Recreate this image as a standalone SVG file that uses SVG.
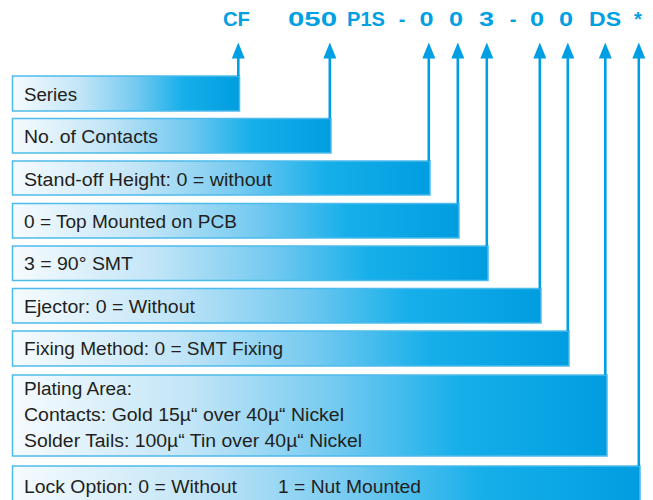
<svg xmlns="http://www.w3.org/2000/svg" width="653" height="500" viewBox="0 0 653 500">
<defs>
<linearGradient id="g" x1="0" y1="0" x2="1" y2="0">
<stop offset="0" stop-color="#f6fbfe"/>
<stop offset="0.3" stop-color="#c2e5f7"/>
<stop offset="0.55" stop-color="#72c9f0"/>
<stop offset="0.75" stop-color="#16afea"/>
<stop offset="1" stop-color="#009de0"/>
</linearGradient>
<marker id="arr" viewBox="0 0 16 13" refX="0.5" refY="6.5" markerWidth="16" markerHeight="13" markerUnits="userSpaceOnUse" orient="auto">
<path d="M0,0 L16,6.5 L0,13 Z" fill="#009fe3"/>
</marker>
</defs>
<style>
.box{fill:url(#g);stroke:#4dbbeb;stroke-width:1.5}
.t{font-family:"Liberation Sans",Arial,sans-serif;font-size:18px;fill:#231f20}
.h{font-family:"Liberation Sans",Arial,sans-serif;font-size:20px;font-weight:bold;fill:#00a0e3;text-anchor:middle}
.c{stroke:#009fe3;stroke-width:2.6;fill:none}
</style>
<g id="header">
<text class="h" x="236.5" y="26" textLength="27" lengthAdjust="spacingAndGlyphs">CF</text>
<text class="h" x="312.5" y="26" textLength="49" lengthAdjust="spacingAndGlyphs">050</text>
<text class="h" x="366" y="26" textLength="38" lengthAdjust="spacingAndGlyphs">P1S</text>
<text class="h" x="402" y="26">-</text>
<text class="h" x="426.5" y="26" textLength="14" lengthAdjust="spacingAndGlyphs">0</text>
<text class="h" x="456" y="26" textLength="14" lengthAdjust="spacingAndGlyphs">0</text>
<text class="h" x="486.5" y="26" textLength="15" lengthAdjust="spacingAndGlyphs">3</text>
<text class="h" x="513" y="26">-</text>
<text class="h" x="537" y="26" textLength="14" lengthAdjust="spacingAndGlyphs">0</text>
<text class="h" x="566" y="26" textLength="14" lengthAdjust="spacingAndGlyphs">0</text>
<text class="h" x="605" y="26" textLength="32" lengthAdjust="spacingAndGlyphs">DS</text>
<text class="h" x="638" y="26">*</text>
</g>
<g id="series"><rect class="box" x="12.5" y="76" width="227" height="35"/><text class="t" x="24" y="101" textLength="53" lengthAdjust="spacingAndGlyphs">Series</text></g>
<g id="contacts"><rect class="box" x="12.5" y="118.5" width="318.5" height="34.5"/><text class="t" x="24" y="143" textLength="134" lengthAdjust="spacingAndGlyphs">No. of Contacts</text></g>
<g id="standoff"><rect class="box" x="12.5" y="161" width="417.5" height="34"/><text class="t" x="24" y="185.5" textLength="248" lengthAdjust="spacingAndGlyphs">Stand-off Height: 0 = without</text></g>
<g id="mounting"><rect class="box" x="12.5" y="203.5" width="446.5" height="34.5"/><text class="t" x="24" y="228" textLength="213" lengthAdjust="spacingAndGlyphs">0 = Top Mounted on PCB</text></g>
<g id="smt"><rect class="box" x="12.5" y="246" width="475.5" height="34.5"/><text class="t" x="24" y="270" textLength="109" lengthAdjust="spacingAndGlyphs">3 = 90° SMT</text></g>
<g id="ejector"><rect class="box" x="12.5" y="288.5" width="528.5" height="34.5"/><text class="t" x="24" y="312.5" textLength="171" lengthAdjust="spacingAndGlyphs">Ejector: 0 = Without</text></g>
<g id="fixing"><rect class="box" x="12.5" y="331" width="556.5" height="35"/><text class="t" x="24" y="355" textLength="259" lengthAdjust="spacingAndGlyphs">Fixing Method: 0 = SMT Fixing</text></g>
<g id="plating"><rect class="box" x="12.5" y="375" width="594.5" height="81"/>
<text class="t" x="24" y="395" textLength="108" lengthAdjust="spacingAndGlyphs">Plating Area:</text>
<text class="t" x="24" y="421" textLength="320" lengthAdjust="spacingAndGlyphs">Contacts: Gold 15µ“ over 40µ“ Nickel</text>
<text class="t" x="24" y="447" textLength="338" lengthAdjust="spacingAndGlyphs">Solder Tails: 100µ“ Tin over 40µ“ Nickel</text></g>
<g id="lock"><rect class="box" x="12.5" y="466" width="627.5" height="44"/>
<text class="t" x="24" y="493" textLength="213" lengthAdjust="spacingAndGlyphs">Lock Option: 0 = Without</text>
<text class="t" x="278" y="493" textLength="143" lengthAdjust="spacingAndGlyphs">1 = Nut Mounted</text></g>
<g id="connectors">
<line class="c" x1="238.3" y1="76" x2="238.3" y2="58" marker-end="url(#arr)"/>
<line class="c" x1="329.8" y1="118.5" x2="329.8" y2="58" marker-end="url(#arr)"/>
<line class="c" x1="428.8" y1="161" x2="428.8" y2="58" marker-end="url(#arr)"/>
<line class="c" x1="457.8" y1="203.5" x2="457.8" y2="58" marker-end="url(#arr)"/>
<line class="c" x1="486.8" y1="246" x2="486.8" y2="58" marker-end="url(#arr)"/>
<line class="c" x1="539.8" y1="288.5" x2="539.8" y2="58" marker-end="url(#arr)"/>
<line class="c" x1="567.8" y1="331" x2="567.8" y2="58" marker-end="url(#arr)"/>
<line class="c" x1="605.3" y1="375" x2="605.3" y2="58" marker-end="url(#arr)"/>
<line class="c" x1="638.8" y1="466" x2="638.8" y2="58" marker-end="url(#arr)"/>
</g>
</svg>
